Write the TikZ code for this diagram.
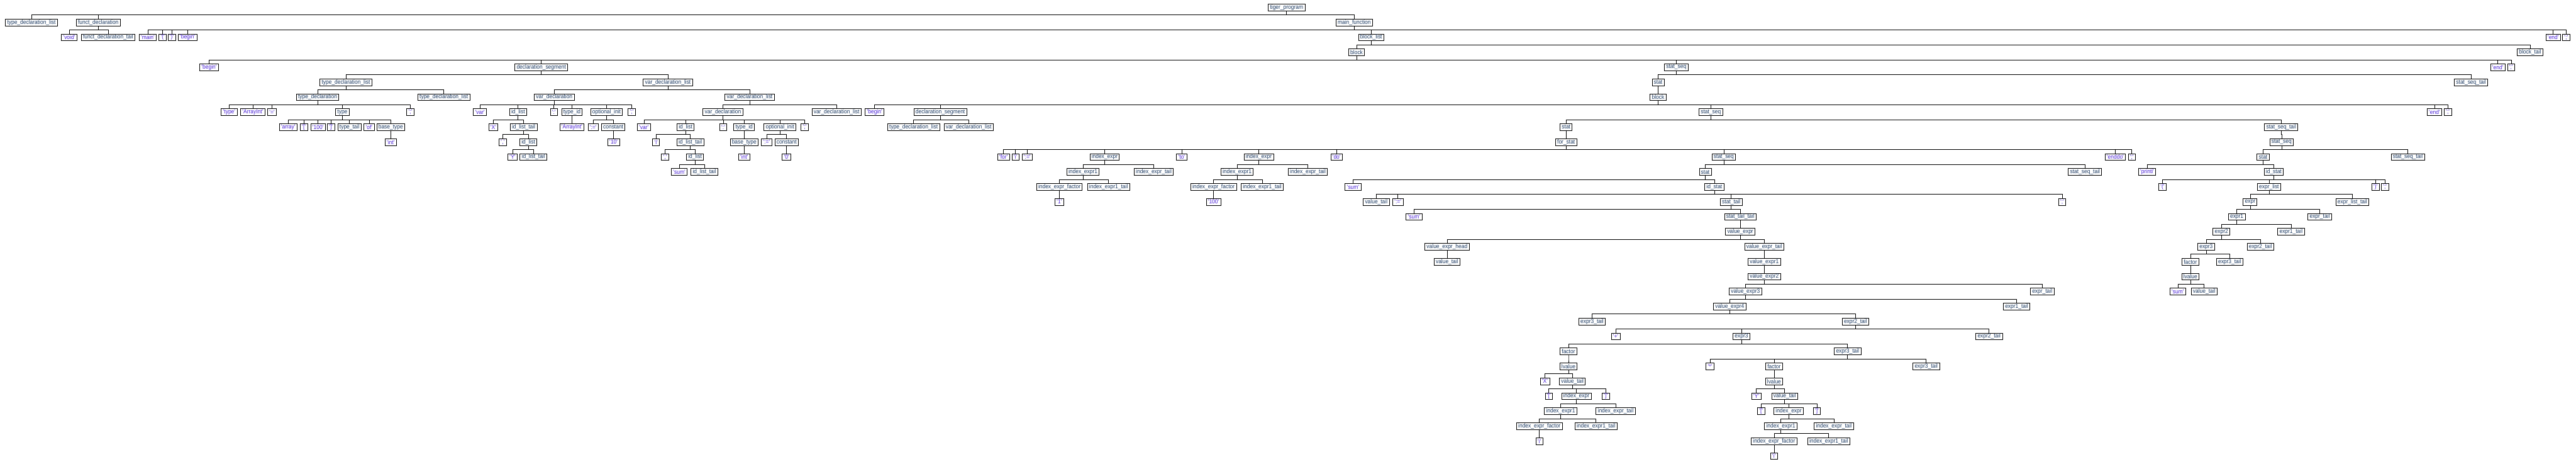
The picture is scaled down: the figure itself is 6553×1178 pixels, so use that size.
\documentclass[tikz,border=0pt]{standalone}
\usepackage{fontspec}
\newfontfamily\treefont[FakeStretch=0.9]{Liberation Sans}
\usetikzlibrary{positioning,calc}
\definecolor{ntcol}{RGB}{28,58,98}
\definecolor{tcol}{RGB}{72,32,212}
\newcommand{\q}[1]{\textquotesingle#1\textquotesingle}

\begin{document}
\begin{tikzpicture}[x=1pt,y=-1pt,
    box/.style={draw=black,line width=1.3pt,inner xsep=4.5pt,inner ysep=0pt,minimum height=17pt,
      font=\treefont\fontsize{15}{15}\selectfont},
    nterm/.style={box,text=ntcol},
    term/.style={box,text=tcol},
    link/.style={line width=1.1pt}]
\useasboundingbox (0,0) rectangle (6553,1178);

% level 0 - 2
\node[nterm] (prog) at (3273,19) {tiger\_program};
\node[nterm] (tdl0) at (80,57) {type\_declaration\_list};
\node[nterm] (fdecl) at (250,57) {funct\_declaration};
\node[nterm] (mainf) at (3445,57) {main\_function};
\node[term] (void) at (176,95) {\q{void}};
\node[nterm] (fdtail) at (275,95) {funct\_declaration\_tail};
\node[term] (kmain) at (376,95) {\q{main}};
\node[term] (lp0) at (414,95) {\q{(}};
\node[term] (rp0) at (437,95) {\q{)}};
\node[term] (beg0) at (477,95) {\q{begin}};
\node[nterm] (blist) at (3488,95) {block\_list};
\node[term] (end0) at (6495,95) {\q{end}};
\node[term] (sc0) at (6528,95) {\q{;}};

% level 3 - 6
\node[nterm] (blk0) at (3451,133) {block};
\node[nterm] (btail) at (6436,133) {block\_tail};
\node[term] (beg1) at (532,171) {\q{begin}};
\node[nterm] (dseg0) at (1377,171) {declaration\_segment};
\node[nterm] (sseq0) at (4264,171) {stat\_seq};
\node[term] (end1) at (6354,171) {\q{end}};
\node[term] (sc1) at (6388,171) {\q{;}};
\node[nterm] (tdl1) at (880,209) {type\_declaration\_list};
\node[nterm] (vdl0) at (1699,209) {var\_declaration\_list};
\node[nterm] (stat0) at (4218,209) {stat};
\node[nterm] (sst0) at (6286,209) {stat\_seq\_tail};
\node[nterm] (tdecl) at (808,247) {type\_declaration};
\node[nterm] (tdl2) at (1129,247) {type\_declaration\_list};
\node[nterm] (vdec0) at (1410,247) {var\_declaration};
\node[nterm] (vdl1) at (1907,247) {var\_declaration\_list};
\node[nterm] (blk1) at (4218,247) {block};

% level 7
\node[term] (ktype) at (583,285) {\q{type}};
\node[term] (arrint0) at (643,285) {\q{ArrayInt}};
\node[term] (eq0) at (692,285) {\q{=}};
\node[nterm] (type0) at (871,285) {type};
\node[term] (sc2) at (1044,285) {\q{;}};
\node[term] (var0) at (1221,285) {\q{var}};
\node[nterm] (idl0) at (1318,285) {id\_list};
\node[term] (col0) at (1409,285) {\q{:}};
\node[nterm] (tid0) at (1455,285) {type\_id};
\node[nterm] (oinit0) at (1543,285) {optional\_init};
\node[term] (sc3) at (1607,285) {\q{;}};
\node[nterm] (vdec1) at (1839,285) {var\_declaration};
\node[nterm] (vdl2) at (2128,285) {var\_declaration\_list};
\node[term] (beg2) at (2225,285) {\q{begin}};
\node[nterm] (dseg1) at (2392,285) {declaration\_segment};
\node[nterm] (sseq1) at (4352,285) {stat\_seq};
\node[term] (end2) at (6193,285) {\q{end}};
\node[term] (sc4) at (6227,285) {\q{;}};

% level 8
\node[term] (arr) at (733,323) {\q{array}};
\node[term] (lb) at (773,323) {\q{[}};
\node[term] (n100a) at (809,323) {\q{100}};
\node[term] (rb) at (842,323) {\q{]}};
\node[nterm] (ttail) at (889,323) {type\_tail};
\node[term] (kof) at (939,323) {\q{of}};
\node[nterm] (btype0) at (994,323) {base\_type};
\node[term] (x0) at (1255,323) {\q{X}};
\node[nterm] (idlt0) at (1332,323) {id\_list\_tail};
\node[term] (arrint1) at (1455,323) {\q{ArrayInt}};
\node[term] (ceq0) at (1509,323) {\q{:=}};
\node[nterm] (const0) at (1560,323) {constant};
\node[term] (var1) at (1638,323) {\q{var}};
\node[nterm] (idl1) at (1744,323) {id\_list};
\node[term] (col1) at (1840,323) {\q{:}};
\node[nterm] (tid1) at (1893,323) {type\_id};
\node[nterm] (oinit1) at (1984,323) {optional\_init};
\node[term] (sc5) at (2047,323) {\q{;}};
\node[nterm] (tdl3) at (2324,323) {type\_declaration\_list};
\node[nterm] (vdl3) at (2464,323) {var\_declaration\_list};
\node[nterm] (stat1) at (3984,323) {stat};
\node[nterm] (sst1) at (5803,323) {stat\_seq\_tail};

% level 9
\node[term] (int0) at (994,361) {\q{int}};
\node[term] (com0) at (1279,361) {\q{,}};
\node[nterm] (idl2) at (1344,361) {id\_list};
\node[term] (ten) at (1561,361) {\q{10}};
\node[term] (i0) at (1669,361) {\q{i}};
\node[nterm] (idlt1) at (1756,361) {id\_list\_tail};
\node[nterm] (btype1) at (1893,361) {base\_type};
\node[term] (ceq1) at (1950,361) {\q{:=}};
\node[nterm] (const1) at (2001,361) {constant};
\node[nterm] (fstat) at (3984,361) {for\_stat};
\node[nterm] (sseq2) at (5804,361) {stat\_seq};

% level 10
\node[term] (y0) at (1304,399) {\q{Y}};
\node[nterm] (idlt2) at (1357,399) {id\_list\_tail};
\node[term] (com1) at (1692,399) {\q{,}};
\node[nterm] (idl3) at (1768,399) {id\_list};
\node[term] (int1) at (1893,399) {\q{int}};
\node[term] (zero) at (2001,399) {\q{0}};
\node[term] (kfor) at (2553,399) {\q{for}};
\node[term] (i1) at (2583,399) {\q{i}};
\node[term] (ceq2) at (2613,399) {\q{:=}};
\node[nterm] (iexA) at (2810,399) {index\_expr};
\node[term] (kto) at (3006,399) {\q{to}};
\node[nterm] (iexB) at (3202,399) {index\_expr};
\node[term] (kdo) at (3400,399) {\q{do}};
\node[nterm] (sseq3) at (4385,399) {stat\_seq};
\node[term] (enddo) at (5381,399) {\q{enddo}};
\node[term] (sc6) at (5423,399) {\q{;}};
\node[nterm] (stat2) at (5757,399) {stat};
\node[nterm] (sst2) at (6125,399) {stat\_seq\_tail};

% level 11 - 13
\node[term] (sum0) at (1728,437) {\q{sum}};
\node[nterm] (idlt3) at (1792,437) {id\_list\_tail};
\node[nterm] (iexA1) at (2755,437) {index\_expr1};
\node[nterm] (iexAt) at (2935,437) {index\_expr\_tail};
\node[nterm] (iexB1) at (3147,437) {index\_expr1};
\node[nterm] (iexBt) at (3327,437) {index\_expr\_tail};
\node[nterm] (stat3) at (4338,437) {stat};
\node[nterm] (sst3) at (5304,437) {stat\_seq\_tail};
\node[term] (printi) at (5462,437) {\q{printi}};
\node[nterm] (idst0) at (5784,437) {id\_stat};
\node[nterm] (iexAf) at (2695,475) {index\_expr\_factor};
\node[nterm] (iexA1t) at (2820,475) {index\_expr1\_tail};
\node[nterm] (iexBf) at (3087,475) {index\_expr\_factor};
\node[nterm] (iexB1t) at (3211,475) {index\_expr1\_tail};
\node[term] (sum1) at (3442,475) {\q{sum}};
\node[nterm] (idst1) at (4361,475) {id\_stat};
\node[term] (lp1) at (5501,475) {\q{(}};
\node[nterm] (elist) at (5772,475) {expr\_list};
\node[term] (rp1) at (6043,475) {\q{)}};
\node[term] (sc8) at (6067,475) {\q{;}};
\node[term] (one) at (2695,513) {\q{1}};
\node[term] (n100b) at (3087,513) {\q{100}};
\node[nterm] (vtail0) at (3501,513) {value\_tail};
\node[term] (ceq3) at (3556,513) {\q{:=}};
\node[nterm] (sttail) at (4404,513) {stat\_tail};
\node[term] (sc7) at (5246,513) {\q{;}};
\node[nterm] (expr0) at (5724,513) {expr};
\node[nterm] (elt) at (5984,513) {expr\_list\_tail};

% level 14 - 19
\node[term] (sum2) at (3597,551) {\q{sum}};
\node[nterm] (stt) at (4427,551) {stat\_tail\_tail};
\node[nterm] (expr1a) at (5690,551) {expr1};
\node[nterm] (etail) at (5901,551) {expr\_tail};
\node[nterm] (vexpr) at (4427,589) {value\_expr};
\node[nterm] (expr2a) at (5651,589) {expr2};
\node[nterm] (e1tail) at (5828,589) {expr1\_tail};
\node[nterm] (vhead) at (3681,627) {value\_expr\_head};
\node[nterm] (vetail) at (4488,627) {value\_expr\_tail};
\node[nterm] (expr3a) at (5612,627) {expr3};
\node[nterm] (e2tail) at (5750,627) {expr2\_tail};
\node[nterm] (vtail1) at (3681,665) {value\_tail};
\node[nterm] (vexpr1) at (4488,665) {value\_expr1};
\node[nterm] (factor0) at (5572,665) {factor};
\node[nterm] (e3tail) at (5672,665) {expr3\_tail};
\node[nterm] (vexpr2) at (4488,703) {value\_expr2};
\node[nterm] (lval0) at (5572,703) {lvalue};
\node[nterm] (vexpr3) at (4440,741) {value\_expr3};
\node[nterm] (etail1) at (5195,741) {expr\_tail};
\node[term] (sum3) at (5540,741) {\q{sum}};
\node[nterm] (vtail2) at (5607,741) {value\_tail};

% level 20 - 25
\node[nterm] (vexpr4) at (4400,779) {value\_expr4};
\node[nterm] (e1tail1) at (5130,779) {expr1\_tail};
\node[nterm] (e3tail1) at (4050,817) {expr3\_tail};
\node[nterm] (e2tail1) at (4720,817) {expr2\_tail};
\node[term] (plus) at (4110,855) {\q{+}};
\node[nterm] (expr3b) at (4430,855) {expr3};
\node[nterm] (e2tail2) at (5060,855) {expr2\_tail};
\node[nterm] (factor1) at (3990,893) {factor};
\node[nterm] (e3tail2) at (4700,893) {expr3\_tail};
\node[nterm] (lval1) at (3990,931) {lvalue};
\node[term] (times) at (4350,931) {\q{*}};
\node[nterm] (factor2) at (4513,931) {factor};
\node[nterm] (e3tail3) at (4900,931) {expr3\_tail};
\node[term] (xx) at (3930,969) {\q{X}};
\node[nterm] (vtail3) at (4000,969) {value\_tail};
\node[nterm] (lval2) at (4513,969) {lvalue};

% level 26 - 30
\node[term] (lb1) at (3940,1007) {\q{[}};
\node[nterm] (iexC) at (4010,1007) {index\_expr};
\node[term] (rb1) at (4085,1007) {\q{]}};
\node[term] (yy) at (4468,1007) {\q{Y}};
\node[nterm] (vtail4) at (4540,1007) {value\_tail};
\node[nterm] (iexC1) at (3970,1045) {index\_expr1};
\node[nterm] (iexCt) at (4110,1045) {index\_expr\_tail};
\node[term] (lb2) at (4480,1045) {\q{[}};
\node[nterm] (iexD) at (4550,1045) {index\_expr};
\node[term] (rb2) at (4622,1045) {\q{]}};
\node[nterm] (iexCf) at (3916,1083) {index\_expr\_factor};
\node[nterm] (iexC1t) at (4060,1083) {index\_expr1\_tail};
\node[nterm] (iexD1) at (4530,1083) {index\_expr1};
\node[nterm] (iexDt) at (4665,1083) {index\_expr\_tail};
\node[term] (i2) at (3916,1121) {\q{i}};
\node[nterm] (iexDf) at (4513,1121) {index\_expr\_factor};
\node[nterm] (iexD1t) at (4652,1121) {index\_expr1\_tail};
\node[term] (i3) at (4513,1159) {\q{i}};

% connectors
\foreach \p/\c in {prog/tdl0,prog/fdecl,prog/mainf,fdecl/void,fdecl/fdtail,
    mainf/kmain,mainf/lp0,mainf/rp0,mainf/beg0,mainf/blist,mainf/end0,mainf/sc0,
    blist/blk0,blist/btail,blk0/beg1,blk0/dseg0,blk0/sseq0,blk0/end1,blk0/sc1,
    dseg0/tdl1,dseg0/vdl0,sseq0/stat0,sseq0/sst0,tdl1/tdecl,tdl1/tdl2,
    vdl0/vdec0,vdl0/vdl1,stat0/blk1,
    tdecl/ktype,tdecl/arrint0,tdecl/eq0,tdecl/type0,tdecl/sc2,
    vdec0/var0,vdec0/idl0,vdec0/col0,vdec0/tid0,vdec0/oinit0,vdec0/sc3,
    vdl1/vdec1,vdl1/vdl2,blk1/beg2,blk1/dseg1,blk1/sseq1,blk1/end2,blk1/sc4,
    type0/arr,type0/lb,type0/n100a,type0/rb,type0/ttail,type0/kof,type0/btype0,
    idl0/x0,idl0/idlt0,tid0/arrint1,oinit0/ceq0,oinit0/const0,
    vdec1/var1,vdec1/idl1,vdec1/col1,vdec1/tid1,vdec1/oinit1,vdec1/sc5,
    dseg1/tdl3,dseg1/vdl3,sseq1/stat1,sseq1/sst1,
    btype0/int0,idlt0/com0,idlt0/idl2,const0/ten,
    idl1/i0,idl1/idlt1,tid1/btype1,oinit1/ceq1,oinit1/const1,
    stat1/fstat,sst1/sseq2,idl2/y0,idl2/idlt2,idlt1/com1,idlt1/idl3,
    btype1/int1,const1/zero,
    fstat/kfor,fstat/i1,fstat/ceq2,fstat/iexA,fstat/kto,fstat/iexB,fstat/kdo,
    fstat/sseq3,fstat/enddo,fstat/sc6,sseq2/stat2,sseq2/sst2,
    idl3/sum0,idl3/idlt3,iexA/iexA1,iexA/iexAt,iexB/iexB1,iexB/iexBt,
    sseq3/stat3,sseq3/sst3,stat2/printi,stat2/idst0,
    iexA1/iexAf,iexA1/iexA1t,iexB1/iexBf,iexB1/iexB1t,stat3/sum1,stat3/idst1,
    idst0/lp1,idst0/elist,idst0/rp1,idst0/sc8,iexAf/one,iexBf/n100b,
    idst1/vtail0,idst1/ceq3,idst1/sttail,idst1/sc7,elist/expr0,elist/elt,
    sttail/sum2,sttail/stt,expr0/expr1a,expr0/etail,stt/vexpr,
    expr1a/expr2a,expr1a/e1tail,vexpr/vhead,vexpr/vetail,
    expr2a/expr3a,expr2a/e2tail,vhead/vtail1,vetail/vexpr1,
    expr3a/factor0,expr3a/e3tail,factor0/lval0,lval0/sum3,lval0/vtail2,
    vexpr1/vexpr2,vexpr2/vexpr3,vexpr2/etail1,vexpr3/vexpr4,vexpr3/e1tail1,
    vexpr4/e3tail1,vexpr4/e2tail1,e2tail1/plus,e2tail1/expr3b,e2tail1/e2tail2,
    expr3b/factor1,expr3b/e3tail2,factor1/lval1,lval1/xx,lval1/vtail3,
    e3tail2/times,e3tail2/factor2,e3tail2/e3tail3,factor2/lval2,
    vtail3/lb1,vtail3/iexC,vtail3/rb1,lval2/yy,lval2/vtail4,
    iexC/iexC1,iexC/iexCt,vtail4/lb2,vtail4/iexD,vtail4/rb2,
    iexC1/iexCf,iexC1/iexC1t,iexD/iexD1,iexD/iexDt,iexCf/i2,
    iexD1/iexDf,iexD1/iexD1t,iexDf/i3}
  \draw[link] (\p.south) -- ([yshift=-19pt]\p.center) -| (\c.north);
\end{tikzpicture}
\end{document}
